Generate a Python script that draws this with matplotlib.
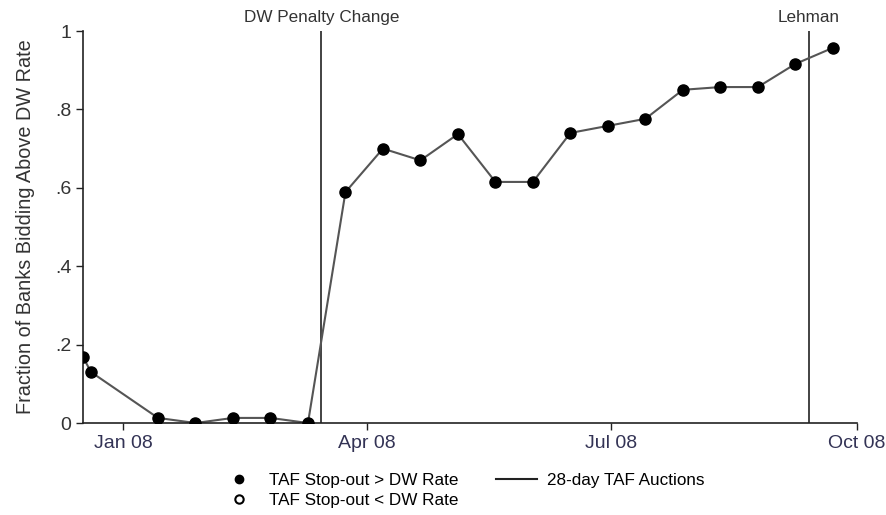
import matplotlib
matplotlib.use("Agg")
import matplotlib.pyplot as plt
from matplotlib.lines import Line2D
import datetime as dt

plt.rcParams['font.family'] = ['Liberation Sans', 'DejaVu Sans']

auction_dates = ["2007-12-17", "2007-12-20", "2008-01-14", "2008-01-28", "2008-02-11",
                 "2008-02-25", "2008-03-10", "2008-03-24", "2008-04-07", "2008-04-21",
                 "2008-05-05", "2008-05-19", "2008-06-02", "2008-06-16", "2008-06-30",
                 "2008-07-14", "2008-07-28", "2008-08-11", "2008-08-25", "2008-09-08",
                 "2008-09-22"]
fraction_above = [0.168, 0.13, 0.013, 0.0, 0.013, 0.013, 0.0, 0.589, 0.70, 0.67,
                  0.737, 0.615, 0.615, 0.74, 0.758, 0.776, 0.85, 0.857, 0.857, 0.916, 0.957]
events = {"DW Penalty Change": "2008-03-15", "Lehman": "2008-09-13"}
tick_dates = ["2008-01-01", "2008-04-01", "2008-07-01", "2008-10-01"]
tick_labels = ["Jan 08", "Apr 08", "Jul 08", "Oct 08"]
y_ticks = [0, 0.2, 0.4, 0.6, 0.8, 1.0]
y_tick_labels = ["0", ".2", ".4", ".6", ".8", "1"]

to_d = lambda s: dt.datetime.strptime(s, "%Y-%m-%d")
xd = [to_d(s) for s in auction_dates]

fig = plt.figure(figsize=(8.86, 5.15), dpi=100)
ax = fig.add_axes([0.0937, 0.1786, 0.8735, 0.7612])

ax.plot(xd, fraction_above, color="#555555", lw=1.5, zorder=2)
ax.plot(xd, fraction_above, 'o', color="black", ms=8, zorder=3)

for name, d in events.items():
    ax.axvline(to_d(d), color="#222222", lw=1.2, zorder=1)
    ax.text(to_d(d), 1.015, name, transform=ax.get_xaxis_transform(),
            ha="center", va="bottom", fontsize=12.3, color="#333333")

ax.set_xlim(to_d("2007-12-17"), to_d("2008-10-01"))
ax.set_ylim(0, 1)
ax.set_xticks([to_d(s) for s in tick_dates])
ax.set_xticklabels(tick_labels)
ax.set_yticks(y_ticks)
ax.set_yticklabels(y_tick_labels)
ax.tick_params(direction="out", length=5, width=1, labelsize=14, colors="#222222")
ax.tick_params(axis='x', labelcolor="#333355")
ax.tick_params(axis='y', labelcolor="#333333")
for s in ["top", "right"]:
    ax.spines[s].set_visible(False)
for s in ["left", "bottom"]:
    ax.spines[s].set_linewidth(1.2)
    ax.spines[s].set_color("#222222")
ax.set_ylabel("Fraction of Banks Bidding Above DW Rate", fontsize=14.3, color="#333333", labelpad=14)

h1 = Line2D([], [], marker='o', color='black', ls='none', ms=6)
h2 = Line2D([], [], marker='o', markerfacecolor='white', markeredgecolor='black', ls='none', ms=6, mew=1.5)
h3 = Line2D([], [], color='#222222', lw=1.5)
fig.legend([h1, h2, h3], ["TAF Stop-out > DW Rate", "TAF Stop-out < DW Rate", "28-day TAF Auctions"],
           ncol=2, loc="center", bbox_to_anchor=(0.521, 0.048), frameon=False, fontsize=12.3,
           handlelength=2.4, columnspacing=2.2, labelspacing=0.28, handletextpad=0.55)

fig.savefig("out.png", dpi=100)
